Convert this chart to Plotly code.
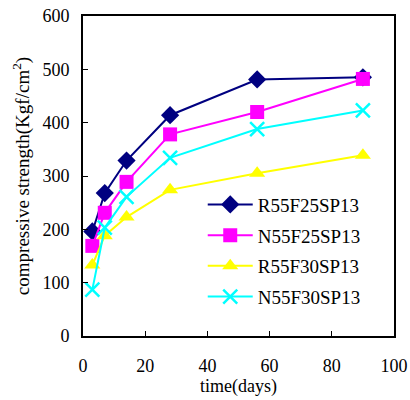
import plotly.graph_objects as go

days = [3, 7, 14, 28, 56, 90]
r55f25 = [196, 268, 329, 414, 481, 485]
n55f25 = [169, 231, 289, 378, 420, 482]
r55f30 = [133, 188, 223, 274, 305, 339]
n55f30 = [87, 203, 261, 334, 388, 423]
names = ["R55F25SP13", "N55F25SP13", "R55F30SP13", "N55F30SP13"]
colors = ["#000080", "#FF00FF", "#FFFF00", "#00FFFF"]
symbols = ["diamond", "square", "triangle-up", "x-thin"]
series = [r55f25, n55f25, r55f30, n55f30]

fig = go.Figure()
for i, (nm, ys) in enumerate(zip(names, series)):
    mk = dict(symbol=symbols[i], size=14, color=colors[i])
    if symbols[i] == "x-thin":
        mk = dict(symbol="x-thin", size=14, color=colors[i], line=dict(width=2.5, color=colors[i]))
    fig.add_trace(go.Scatter(x=days, y=ys, name=nm, mode="lines+markers",
                             line=dict(color=colors[i], width=2), marker=mk,
                             legendgroup=nm))

font = "Times New Roman"
fig.update_layout(
    width=410, height=400,
    margin=dict(l=83, r=16, t=16, b=64, autoexpand=False),
    paper_bgcolor="white", plot_bgcolor="white",
    font=dict(family=font, size=18, color="black"),
    showlegend=True,
    legend=dict(x=0.385, y=0.47, xanchor="left", yanchor="top",
                bgcolor="rgba(0,0,0,0)", font=dict(size=19, family=font),
                itemwidth=45, tracegroupgap=3),
    xaxis=dict(range=[0, 100], dtick=20, ticks="inside", ticklen=5, tickcolor="black",
               showgrid=False, zeroline=False, showline=True, linecolor="black", linewidth=2,
               mirror=True, automargin=False,
               title=dict(text="time(days)", standoff=5, font=dict(size=18, family=font)),
               ticklabelstandoff=12, tickfont=dict(family=font, size=18)),
    yaxis=dict(range=[0, 600], dtick=100, ticks="inside", ticklen=5, tickcolor="black",
               showgrid=False, zeroline=False, showline=True, linecolor="black", linewidth=2,
               mirror=True, automargin=False,
               title=dict(text="compressive strength(Kgf/cm<sup>2</sup>)", standoff=8,
                          font=dict(size=19, family=font)),
               ticklabelstandoff=8, tickfont=dict(family=font, size=18)),
)
fig.write_html("out.html")
